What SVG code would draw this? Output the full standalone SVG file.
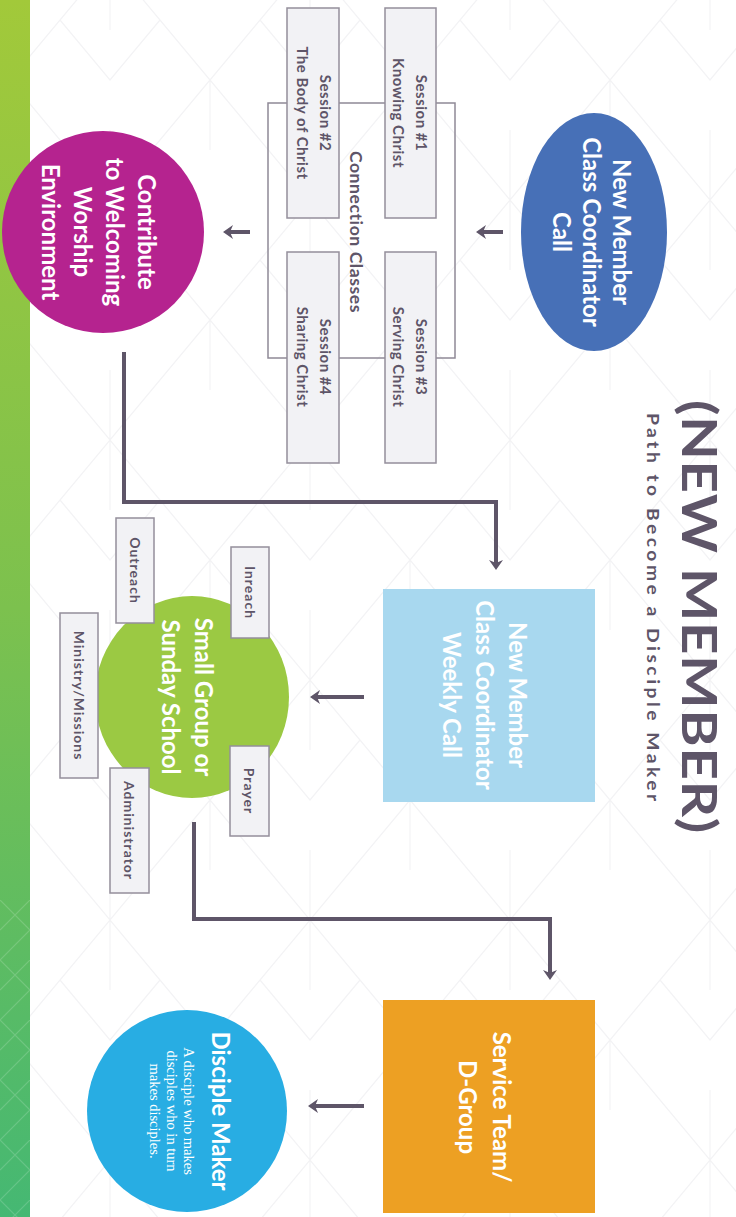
<svg xmlns="http://www.w3.org/2000/svg" width="736" height="1217" viewBox="0 0 736 1217">
<defs>
<linearGradient id="band" x1="0" y1="0" x2="0" y2="1">
<stop offset="0" stop-color="#a2c93a"/>
<stop offset="0.5" stop-color="#7cc14e"/>
<stop offset="1" stop-color="#45b873"/>
</linearGradient>
<pattern id="bgpat" width="200" height="240" patternUnits="userSpaceOnUse" x="10" y="-40">
<path d="M0,120 L100,0 L200,120 L100,240 Z M100,0 V70 M100,240 V170 M0,120 V190 M200,120 V190 M50,60 L100,120 L150,60" fill="none" stroke="#f3f3f5" stroke-width="1.2"/>
</pattern>
<pattern id="bandpat" width="30" height="60" patternUnits="userSpaceOnUse">
<path d="M0,0 L30,30 L0,60 M30,0 L0,30" fill="none" stroke="#ffffff" stroke-width="1.2" stroke-opacity="0.16"/>
</pattern>
<marker id="arrow" viewBox="0 0 10 14" refX="4" refY="7" markerWidth="10" markerHeight="14" markerUnits="userSpaceOnUse" orient="auto">
<path d="M0,0 L10,7 L0,14 L3,7 Z" fill="#5e5568"/>
</marker>
<style>
.lbl{font-family:Lato,"Open Sans","Liberation Sans",sans-serif;font-weight:700;fill:#ffffff;font-size:24px;text-anchor:middle;dominant-baseline:central}
.dark{font-family:Lato,"Open Sans","Liberation Sans",sans-serif;font-weight:700;fill:#5e5568;text-anchor:middle;dominant-baseline:central}
.sess{font-size:15px;letter-spacing:0.5px}
.tag{font-size:14px;letter-spacing:1px}
.box{fill:#f2f2f5;stroke:#948e9b;stroke-width:1.5}
.conn{fill:none;stroke:#5e5568;stroke-width:4}
.serif{font-family:"Liberation Serif","DejaVu Serif",serif;fill:#ffffff;font-size:14.5px;text-anchor:middle;dominant-baseline:central}
</style>
</defs>

<rect x="0" y="0" width="736" height="1217" fill="#ffffff"/>
<rect x="30" y="0" width="706" height="1217" fill="url(#bgpat)"/>
<rect x="0" y="0" width="30" height="1217" fill="url(#band)"/>
<rect x="0" y="900" width="30" height="317" fill="url(#bandpat)"/>

<g id="title">
<text class="dark" transform="translate(682,400) rotate(90) scale(1.2,1)" style="font-size:47px;text-anchor:start;dominant-baseline:auto" textLength="361" lengthAdjust="spacing">(NEW MEMBER)</text>
<text class="dark" transform="translate(647,413) rotate(90) scale(1.1,1)" style="font-size:17.5px;text-anchor:start;dominant-baseline:auto" textLength="353" lengthAdjust="spacing">Path to Become a Disciple Maker</text>
</g>

<g id="coordinator-call">
<ellipse cx="594" cy="232" rx="73" ry="119" fill="#4770b7"/>
<g transform="translate(594,232) rotate(90)">
<text class="lbl"><tspan x="0" y="-29">New Member</tspan><tspan x="0" y="1">Class Coordinator</tspan><tspan x="0" y="31">Call</tspan></text>
</g>
</g>

<g id="connection-classes">
<rect x="268" y="103" width="187" height="255" fill="none" stroke="#8f8996" stroke-width="1.5"/>
<g transform="translate(356,232) rotate(90)"><text class="dark" style="font-size:17.5px;letter-spacing:0.6px" x="0" y="0">Connection Classes</text></g>
</g>

<g id="session-1">
<rect class="box" x="385" y="8" width="51" height="210"/>
<g transform="translate(410,113) rotate(90)"><text class="dark sess"><tspan x="0" y="-12">Session #1</tspan><tspan x="0" y="11">Knowing Christ</tspan></text></g>
</g>
<g id="session-2">
<rect class="box" x="287" y="8" width="52" height="210"/>
<g transform="translate(314,113) rotate(90)"><text class="dark sess"><tspan x="0" y="-12">Session #2</tspan><tspan x="0" y="11">The Body of Christ</tspan></text></g>
</g>
<g id="session-3">
<rect class="box" x="385" y="252" width="51" height="211"/>
<g transform="translate(410,357) rotate(90)"><text class="dark sess"><tspan x="0" y="-12">Session #3</tspan><tspan x="0" y="11">Serving Christ</tspan></text></g>
</g>
<g id="session-4">
<rect class="box" x="287" y="252" width="52" height="211"/>
<g transform="translate(314,357) rotate(90)"><text class="dark sess"><tspan x="0" y="-12">Session #4</tspan><tspan x="0" y="11">Sharing Christ</tspan></text></g>
</g>

<g id="contribute-worship">
<ellipse cx="103" cy="232" rx="101" ry="101" fill="#b5238f"/>
<g transform="translate(100,232) rotate(90)">
<text class="lbl"><tspan x="0" y="-48">Contribute</tspan><tspan x="0" y="-16">to Welcoming</tspan><tspan x="0" y="16">Worship</tspan><tspan x="0" y="48">Environment</tspan></text>
</g>
</g>

<g id="weekly-call">
<rect x="383" y="589" width="212" height="213" fill="#a8d8ef"/>
<g transform="translate(486,695) rotate(90)">
<text class="lbl"><tspan x="0" y="-33">New Member</tspan><tspan x="0" y="0">Class Coordinator</tspan><tspan x="0" y="33">Weekly Call</tspan></text>
</g>
</g>

<g id="small-group">
<ellipse cx="192" cy="697" rx="97" ry="101" fill="#9bc943"/>
<g transform="translate(188,697) rotate(90)">
<text class="lbl"><tspan x="0" y="-17">Small Group or</tspan><tspan x="0" y="16">Sunday School</tspan></text>
</g>
</g>

<g id="inreach">
<rect class="box" x="231" y="547" width="38" height="91"/>
<text class="dark tag" transform="translate(250,592.5) rotate(90)">Inreach</text>
</g>
<g id="outreach">
<rect class="box" x="116" y="518" width="38" height="105"/>
<text class="dark tag" transform="translate(135,570.5) rotate(90)">Outreach</text>
</g>
<g id="ministry-missions">
<rect class="box" x="60" y="613" width="38" height="165"/>
<text class="dark tag" transform="translate(79,695.5) rotate(90)">Ministry/Missions</text>
</g>
<g id="prayer">
<rect class="box" x="230" y="746" width="39" height="90"/>
<text class="dark tag" transform="translate(249.5,791) rotate(90)">Prayer</text>
</g>
<g id="administrator">
<rect class="box" x="110" y="768" width="39" height="125"/>
<text class="dark tag" transform="translate(129.5,830.5) rotate(90)">Administrator</text>
</g>

<g id="service-team">
<rect x="383" y="1000" width="212" height="213" fill="#eda023"/>
<g transform="translate(486,1107) rotate(90)">
<text class="lbl"><tspan x="0" y="-17">Service Team/</tspan><tspan x="0" y="17">D-Group</tspan></text>
</g>
</g>

<g id="disciple-maker">
<ellipse cx="187" cy="1111" rx="100" ry="101" fill="#28ade3"/>
<g transform="translate(187,1111) rotate(90)">
<text class="lbl" x="0" y="-34">Disciple Maker</text>
<text class="serif"><tspan x="0" y="-2">A disciple who makes</tspan><tspan x="0" y="15">disciples who in turn</tspan><tspan x="0" y="32">makes disciples.</tspan></text>
</g>
</g>

<g id="connectors">
<line class="conn" x1="503" y1="232" x2="482" y2="232" marker-end="url(#arrow)"/>
<line class="conn" x1="250" y1="232" x2="229" y2="232" marker-end="url(#arrow)"/>
<path class="conn" d="M124,352 V502 H496 V564" marker-end="url(#arrow)"/>
<line class="conn" x1="364" y1="697" x2="316" y2="697" marker-end="url(#arrow)"/>
<path class="conn" d="M194,822 V919 H550 V974" marker-end="url(#arrow)"/>
<line class="conn" x1="364" y1="1106" x2="314" y2="1106" marker-end="url(#arrow)"/>
</g>
</svg>
